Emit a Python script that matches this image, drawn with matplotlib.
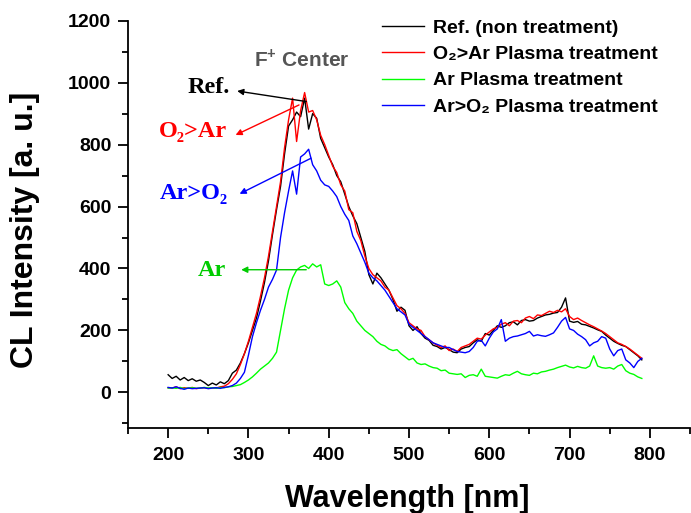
import numpy as np
import matplotlib
matplotlib.use("Agg")
import matplotlib.pyplot as plt
from matplotlib.ticker import MultipleLocator

plt.rcParams['font.family'] = ['Liberation Sans', 'DejaVu Sans']
plt.rcParams['mathtext.fontset'] = 'custom'
plt.rcParams['mathtext.rm'] = 'Liberation Sans:bold'
plt.rcParams['mathtext.bf'] = 'Liberation Sans:bold'

# ---- data (wavelength start 200 nm, step 5 nm) ----
wl_start = 200
wl_step = 5

ref = [57, 45, 52, 40, 48, 38, 44, 36, 40, 32,
       22, 30, 24, 34, 28, 38, 62, 72, 95, 125,
       160, 200, 240, 295, 355, 425, 510, 590, 665, 770,
       860, 880, 905, 890, 950, 850, 900, 885, 820, 790,
       760, 735, 700, 680, 640, 600, 570, 545, 500, 455,
       380, 350, 385, 370, 350, 330, 300, 262, 275, 265,
       215, 200, 212, 190, 175, 168, 152, 148, 140, 145,
       138, 130, 128, 140, 145, 148, 160, 170, 165, 190,
       185, 200, 215, 210, 215, 225, 228, 218, 232, 235,
       230, 232, 240, 245, 250, 252, 256, 258, 275, 305,
       230, 226, 229, 220, 218, 213, 208, 202, 197, 185,
       175, 165, 158, 152, 148, 138, 128, 118, 105]

o2_ar = [15, 14, 18, 12, 15, 13, 16, 12, 14, 15,
         13, 15, 14, 18, 20, 28, 42, 60, 90, 125,
         165, 210, 255, 310, 370, 440, 520, 600, 680, 790,
         880, 950, 810, 910, 968, 905, 910, 880, 830, 800,
         765, 730, 710, 670, 650, 590, 580, 520, 490, 440,
         400, 380, 370, 360, 340, 330, 305, 280, 270, 255,
         225, 215, 205, 200, 180, 170, 160, 152, 145, 150,
         135, 140, 132, 145, 150, 155, 165, 175, 172, 185,
         195, 205, 210, 220, 225, 215, 230, 232, 225, 240,
         245, 238, 250, 248, 255, 262, 258, 265, 260, 270,
         245, 235, 240, 232, 225, 218, 212, 205, 198, 190,
         180, 170, 160, 155, 148, 140, 130, 120, 110]

ar = [14, 15, 13, 16, 12, 14, 15, 13, 14, 16,
      14, 15, 13, 16, 15, 18, 19, 22, 25, 32,
      40, 50, 62, 75, 85, 95, 110, 130, 200, 270,
      330, 370, 395, 405, 410, 400, 415, 405, 412, 350,
      345, 350, 360, 340, 290, 270, 255, 230, 215, 200,
      190, 180, 165, 155, 150, 140, 135, 138, 125, 115,
      105, 110, 95, 90, 92, 85, 80, 78, 70, 72,
      62, 60, 58, 60, 48, 55, 57, 52, 75, 52,
      50, 48, 46, 52, 57, 55, 62, 68, 60, 57,
      55, 62, 60, 66, 68, 72, 75, 80, 84, 88,
      82, 79, 84, 80, 78, 85, 118, 85, 80, 78,
      80, 75, 85, 90, 70, 62, 58, 50, 45]

ar_o2 = [16, 14, 18, 13, 10, 14, 12, 13, 14, 15,
         12, 14, 15, 13, 16, 18, 22, 30, 45, 65,
         120, 180, 225, 265, 300, 340, 365, 395, 500, 580,
         650, 715, 640, 760, 770, 785, 735, 715, 685, 670,
         665, 650, 632, 600, 575, 555, 505, 480, 450, 420,
         385, 370, 360, 345, 330, 310, 290, 270, 260, 250,
         220, 210, 200, 190, 180, 170, 160, 155, 150, 145,
         145, 138, 132, 130, 128, 132, 145, 165, 168, 150,
         175, 195, 205, 235, 165, 175, 180, 182, 186, 190,
         197, 182, 186, 183, 181, 186, 192, 210, 230, 242,
         205, 200, 188, 180, 170, 150, 160, 165, 180, 175,
         140, 118, 135, 140, 105, 95, 80, 100, 110]

series_labels = ["Ref. (non treatment)", "O\u2082>Ar Plasma treatment",
                 "Ar Plasma treatment", "Ar>O\u2082 Plasma treatment"]
series_colors = ["#000000", "#ff0000", "#00ff00", "#0000ff"]

x_ticks = [200, 300, 400, 500, 600, 700, 800]
y_ticks = [0, 200, 400, 600, 800, 1000, 1200]

# annotation labels: (text, color, text pos, arrow tail (at peak), arrow head)
ann_texts = ["Ref.", "O\u2082>Ar", "Ar>O\u2082", "Ar"]
ann_text_xy = [(250, 985), (231, 843), (232, 641), (254, 394)]
ann_tail_xy = [(372, 939), (363, 928), (378, 756), (372, 396)]
ann_head_xy = [(286, 973), (284, 831), (289, 641), (291, 396)]

# ---- figure ----
W, H = 691, 513
fig = plt.figure(figsize=(W / 100, H / 100), dpi=100)
ax = fig.add_axes([128 / W, 1 - 428 / H, (690 - 128) / W, (428 - 20.7) / H])

for vals, lab, col in zip([ref, o2_ar, ar, ar_o2], series_labels, series_colors):
    x = wl_start + wl_step * np.arange(len(vals))
    ax.plot(x, vals, color=col, lw=1.0, label=lab)

ax.set_xlim(150, 850)
ax.set_ylim(-115, 1200)
ax.set_xticks(x_ticks)
ax.set_yticks(y_ticks)
ax.xaxis.set_minor_locator(MultipleLocator(50))
ax.yaxis.set_minor_locator(MultipleLocator(100))
for s in ["top", "right"]:
    ax.spines[s].set_visible(False)
for s in ["left", "bottom"]:
    ax.spines[s].set_linewidth(1.3)
ax.tick_params(which="major", length=7, width=1.3, direction="out", labelsize=14)
ax.tick_params(axis="x", which="major", pad=7)
ax.tick_params(axis="y", which="major", pad=5)
ax.tick_params(which="minor", length=4, width=1.3, direction="out")
for lbl in ax.get_xticklabels() + ax.get_yticklabels():
    lbl.set_fontweight("bold")

fig.text(25 / W, 1 - 230 / H, "CL Intensity [a. u.]", rotation=90, ha="center",
         va="center", fontsize=23, fontweight="bold")
fig.text(407 / W, 1 - 499 / H, "Wavelength [nm]", ha="center", va="center",
         fontsize=22, fontweight="bold")

leg = ax.legend(loc="upper left", bbox_to_anchor=(381.7 / W, 1 - 19 / H),
                bbox_transform=fig.transFigure, frameon=False, borderpad=0,
                borderaxespad=0, handlelength=2.15, handletextpad=0.5,
                labelspacing=0.45, prop={"weight": "bold", "size": 14})

ax.text(367, 1076, r"F$^{+}$ Center", ha="center", va="center", fontsize=15,
        fontweight="bold", color="#555555")

for t, col, txy, tail, head in zip(ann_texts, ["#000000", "#ff0000", "#0000ff", "#00cc00"],
                                   ann_text_xy, ann_tail_xy, ann_head_xy):
    ax.text(txy[0], txy[1], t, ha="center", va="center", fontsize=17.5,
            fontweight="bold", color=col, family=["Liberation Serif", "DejaVu Serif"])
    ax.annotate("", xy=head, xytext=tail,
                arrowprops=dict(arrowstyle="-|>", color=col, lw=1.0,
                                mutation_scale=9, shrinkA=0, shrinkB=0))

fig.savefig("out.png", dpi=100)
